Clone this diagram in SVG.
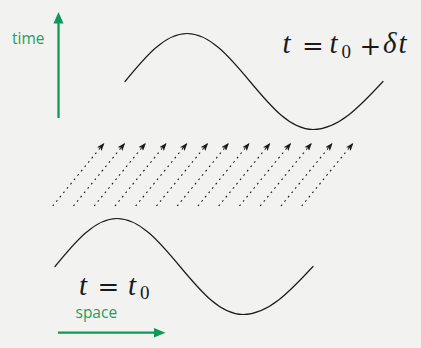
<svg xmlns="http://www.w3.org/2000/svg" width="421" height="348" viewBox="0 0 421 348">
  <defs>
    <style>
      .wave { fill: none; stroke: #1c1c1c; stroke-width: 1.2; stroke-linecap: round; }
      .flow { fill: none; stroke: #1a1a1a; stroke-width: 1.1; stroke-dasharray: 1.8 3.8; marker-end: url(#head); }
      .axis { fill: none; stroke: #10985a; stroke-width: 2.3; }
      .axishead { fill: #10985a; }
      .lbl { font-family: "Open Sans", "Lato", sans-serif; font-size: 15.5px; fill: #1f9e5f; }
      .math { font-family: "Liberation Serif", "DejaVu Serif", serif; font-size: 29px; fill: #1a1a1a; }
      .mi { font-style: italic; }
      .op { font-family: "DejaVu Serif", serif; font-size: 26px; font-weight: 300; }
      .sub { font-size: 19px; font-style: normal; }
    </style>
    <marker id="head" viewBox="0 0 8 6" refX="7.5" refY="3" markerWidth="8" markerHeight="6" markerUnits="userSpaceOnUse" orient="auto">
      <path d="M0,0 L8,3 L0,6 L1.8,3 z" fill="#1a1a1a"/>
    </marker>
    <path id="sine" d="M55,266.5 C75.2,241.9 94.6,218.5 117,218.5 C139.8,218.5 159.5,241.9 180,266.5 C200.5,291.1 220.2,314.5 243,314.5 C268.3,314.5 290.2,291.1 313,266.5"/>
  </defs>

  <rect x="0" y="0" width="421" height="348" fill="#f2f2f0"/>

  <g id="wave-t0">
    <use href="#sine" class="wave"/>
  </g>
  <g id="wave-t0-dt">
    <use href="#sine" class="wave" transform="translate(70,-185)"/>
  </g>

  <g id="connectors">
    <line class="flow" x1="52.7" y1="206" x2="104" y2="143.3"/>
    <line class="flow" x1="73.45" y1="206" x2="124.75" y2="143.3"/>
    <line class="flow" x1="94.2" y1="206" x2="145.5" y2="143.3"/>
    <line class="flow" x1="114.95" y1="206" x2="166.25" y2="143.3"/>
    <line class="flow" x1="135.7" y1="206" x2="187" y2="143.3"/>
    <line class="flow" x1="156.45" y1="206" x2="207.75" y2="143.3"/>
    <line class="flow" x1="177.2" y1="206" x2="228.5" y2="143.3"/>
    <line class="flow" x1="197.95" y1="206" x2="249.25" y2="143.3"/>
    <line class="flow" x1="218.7" y1="206" x2="270" y2="143.3"/>
    <line class="flow" x1="239.45" y1="206" x2="290.75" y2="143.3"/>
    <line class="flow" x1="260.2" y1="206" x2="311.5" y2="143.3"/>
    <line class="flow" x1="280.95" y1="206" x2="332.25" y2="143.3"/>
    <line class="flow" x1="301.7" y1="206" x2="353" y2="143.3"/>
  </g>

  <g id="time-axis">
    <line class="axis" x1="58.5" y1="118" x2="58.5" y2="20"/>
    <polygon class="axishead" points="58.5,12 53.5,23.5 63.5,23.5"/>
    <text class="lbl" x="12" y="44">time</text>
  </g>

  <g id="space-axis">
    <line class="axis" x1="58" y1="332.7" x2="157" y2="332.7"/>
    <polygon class="axishead" points="165.5,332.7 154,328 154,337.4"/>
    <text class="lbl" x="75.5" y="317.5">space</text>
  </g>

  <g id="label-t0-dt">
    <text class="math" y="53.3"><tspan class="mi" x="282.5">t</tspan><tspan class="op" x="302" y="54.5">=</tspan><tspan class="mi" x="329.5" y="53.3">t</tspan><tspan class="sub" x="341.5" y="57.5">0</tspan><tspan class="op" x="359.5" y="54.5">+</tspan><tspan class="mi" x="383" y="53.3">δ</tspan><tspan class="mi" x="398.5" y="53.3">t</tspan></text>
  </g>

  <g id="label-t0">
    <text class="math" y="295"><tspan class="mi" x="79">t</tspan><tspan class="op" x="97.5" y="296">=</tspan><tspan class="mi" x="128" y="295">t</tspan><tspan class="sub" x="140" y="299">0</tspan></text>
  </g>
</svg>
